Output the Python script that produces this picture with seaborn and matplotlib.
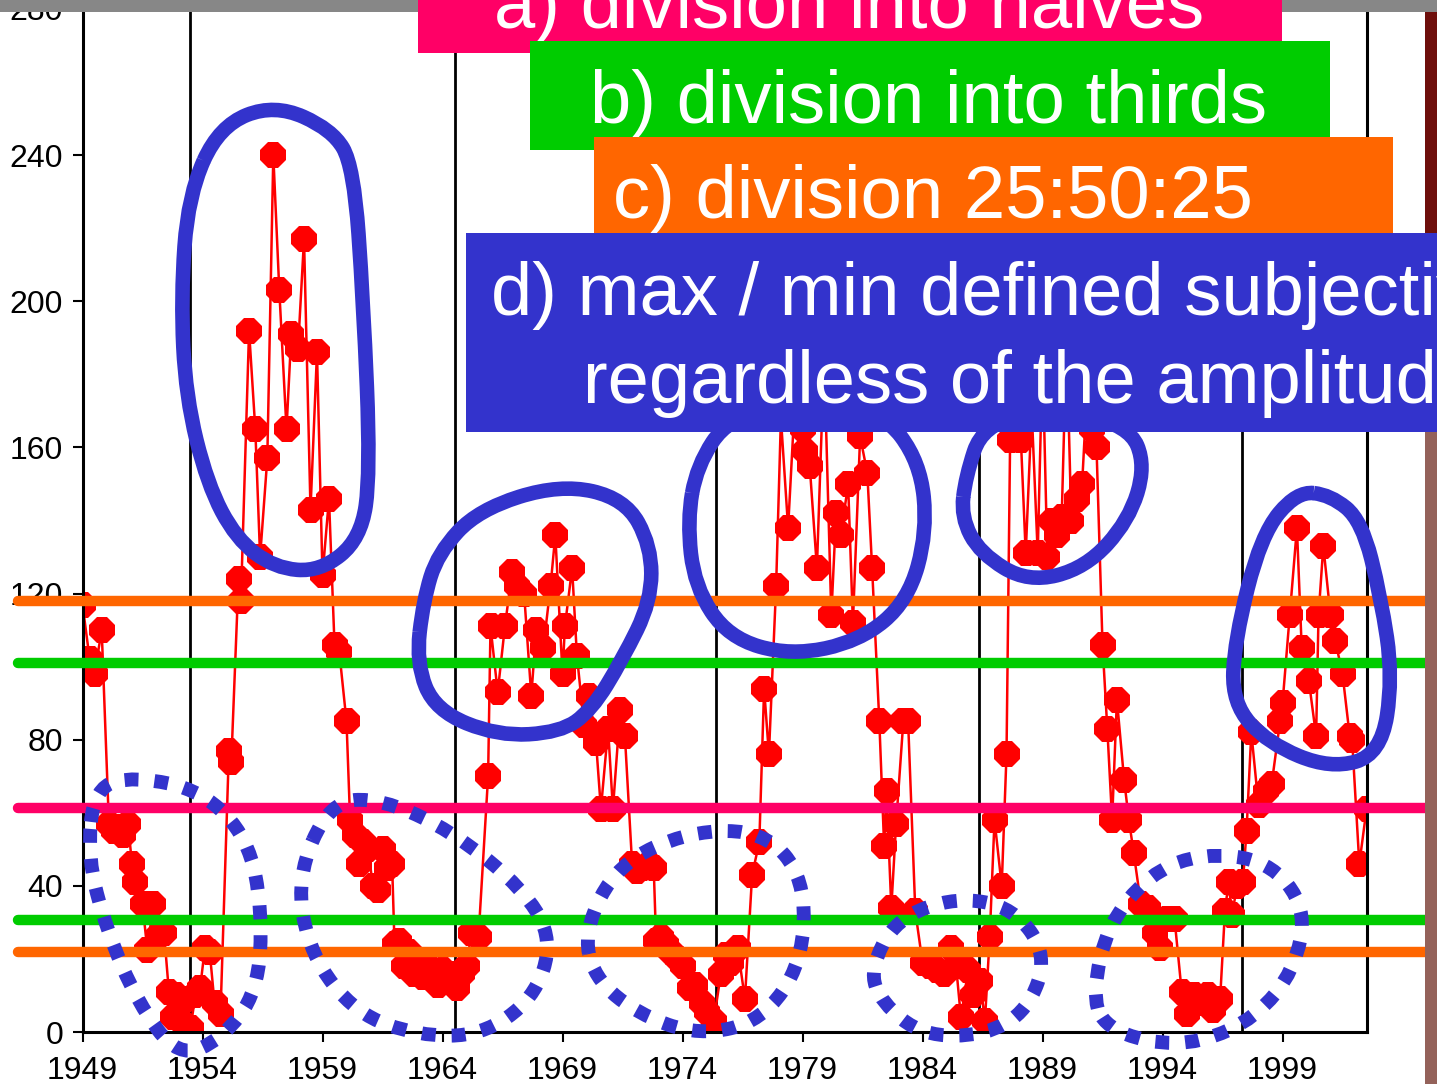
"""
Ciclos de manchas solares con umbrales de division (recreacion).
"""
import numpy as np
import pandas as pd
import matplotlib
matplotlib.use("Agg")
import matplotlib.pyplot as plt
import seaborn as sns
from matplotlib.patches import Rectangle, PathPatch
from matplotlib.path import Path

# --- datos ---
years = [
    1949.0, 1949.3, 1949.5, 1949.8, 1950.1, 1950.3, 1950.5, 1950.7, 1950.9, 1951.06,
    1951.2, 1951.5, 1951.7, 1951.95, 1952.2, 1952.4, 1952.6, 1952.75, 1952.9, 1953.1,
    1953.3, 1953.5, 1953.7, 1953.9, 1954.1, 1954.3, 1954.5, 1954.75, 1955.1, 1955.2,
    1955.5, 1955.6, 1955.94, 1956.2, 1956.4, 1956.7, 1956.95, 1957.2, 1957.5, 1957.7,
    1957.98, 1958.23, 1958.5, 1958.77, 1959.0, 1959.27, 1959.5, 1959.7, 1960.0, 1960.15,
    1960.35, 1960.5, 1960.7, 1960.9, 1961.1, 1961.3, 1961.5, 1961.7, 1961.9, 1962.0,
    1962.2, 1962.4, 1962.6, 1962.8, 1963.0, 1963.2, 1963.4, 1963.6, 1963.8, 1964.0,
    1964.2, 1964.4, 1964.6, 1964.8, 1965.0, 1965.2, 1965.5, 1965.9, 1966.0, 1966.3,
    1966.6, 1966.9, 1967.1, 1967.4, 1967.7, 1967.9, 1968.2, 1968.5, 1968.7, 1969.0,
    1969.1, 1969.4, 1969.6, 1969.9, 1970.1, 1970.4, 1970.6, 1970.9, 1971.1, 1971.4,
    1971.6, 1971.9, 1972.1, 1972.3, 1972.6, 1972.8, 1972.9, 1973.1, 1973.3, 1973.5,
    1973.8, 1974.0, 1974.3, 1974.5, 1974.8, 1975.0, 1975.3, 1975.6, 1975.8, 1976.0,
    1976.3, 1976.6, 1976.9, 1977.2, 1977.4, 1977.6, 1977.9, 1978.1, 1978.4, 1978.7,
    1979.0, 1979.1, 1979.3, 1979.6, 1979.9, 1980.2, 1980.4, 1980.6, 1980.9, 1981.1,
    1981.4, 1981.7, 1981.9, 1982.2, 1982.4, 1982.5, 1982.7, 1982.9, 1983.2, 1983.4,
    1983.7, 1984.0, 1984.3, 1984.6, 1984.9, 1985.2, 1985.4, 1985.6, 1985.9, 1986.1,
    1986.4, 1986.6, 1986.8, 1987.0, 1987.3, 1987.5, 1987.65, 1987.9, 1988.1, 1988.3,
    1988.55, 1988.8, 1989.0, 1989.2, 1989.4, 1989.6, 1989.8, 1990.0, 1990.2, 1990.45,
    1990.65, 1990.85, 1991.05, 1991.25, 1991.5, 1991.7, 1991.9, 1992.1, 1992.4, 1992.6,
    1992.8, 1993.1, 1993.4, 1993.7, 1993.9, 1994.2, 1994.5, 1994.8, 1995.0, 1995.3,
    1995.6, 1995.9, 1996.1, 1996.4, 1996.6, 1996.75, 1996.9, 1997.1, 1997.35, 1997.5,
    1997.7, 1998.0, 1998.3, 1998.55, 1998.9, 1999.0, 1999.3, 1999.6, 1999.8, 2000.1,
    2000.4, 2000.5, 2000.7, 2001.0, 2001.2, 2001.5, 2001.8, 2001.9, 2002.2, 2002.5,
]
sunspots = [
    117, 102, 98, 110, 57, 55, 56, 54, 57, 46,
    41, 35, 22.5, 35, 26.5, 27, 11, 4, 10, 3,
    9, 1, 10, 12, 23, 22, 8, 5, 77, 74,
    124, 118, 192, 165, 130, 157, 240, 203, 165, 191,
    187, 217, 143, 186, 125, 146, 106, 104, 85, 58,
    54, 46, 52, 50, 40, 39, 50, 45, 46, 24,
    25, 18, 22, 16, 17, 15, 18, 16, 13, 17,
    15, 16, 12, 16, 18, 27, 26, 70, 111, 93,
    111, 126, 122, 120, 92, 110, 105, 122, 136, 98,
    111, 127, 103, 84, 92, 79, 61, 83, 61, 88,
    81, 46, 44, 45, 46, 45, 25, 26, 24, 22,
    20, 18, 12, 13, 8, 5.5, 3, 16, 21, 19,
    23, 9, 43, 52, 94, 76, 122, 168, 138, 175,
    165, 159, 155, 127, 185, 114, 142, 136, 150, 112,
    163, 153, 127, 85, 51, 66, 34, 57, 85, 85,
    33, 19, 18, 17, 16, 23, 18, 4, 17, 10,
    14, 3, 26, 58, 40, 76, 162, 175, 162, 131,
    170, 131, 185, 130, 140, 136, 141, 190, 140, 146,
    150, 175, 165, 160, 106, 83, 58, 91, 69, 58,
    49, 35, 34, 27, 23, 31, 31, 11, 5, 10,
    8, 10, 6, 9, 33, 41, 32, 40, 41, 55,
    82, 62, 66, 68, 85, 90, 114, 138, 105, 96,
    81, 114, 133, 114, 107, 98, 81, 80, 46, 61,
]

# lineas verticales (minimos de ciclo)
cycle_edges = [1953.48, 1964.5, 1975.4, 1986.35, 1997.31]

# umbrales horizontales
levels = [118, 101, 61.3, 30.6, 21.9]
level_colors = ["#FF6600", "#00CC00", "#FF0066", "#00CC00", "#FF6600"]

# contornos dibujados a mano (anio, valor)
max_loops = [
    [(1954.7, 248), (1957.0, 254), (1959.4, 247), (1960.3, 237), (1960.7, 200),
     (1961.0, 153), (1960.6, 135), (1958.9, 126), (1957.0, 127), (1955.4, 135),
     (1954.2, 150), (1953.3, 174), (1953.1, 201), (1953.4, 229)],
    [(1963.2, 118), (1963.8, 131), (1965.5, 143), (1968.9, 150), (1971.6, 146),
     (1972.7, 133), (1972.7, 118), (1971.5, 102), (1970.2, 88), (1968.9, 82),
     (1966.3, 81), (1963.7, 88), (1962.9, 101)],
    [(1974.6, 155), (1975.9, 168), (1978.9, 173), (1982.3, 170), (1983.9, 156),
     (1984.2, 137), (1983.4, 118), (1981.4, 107), (1978.5, 103), (1975.9, 108),
     (1974.5, 122), (1974.2, 140)],
    [(1985.8, 152), (1986.5, 166), (1989.3, 171), (1992.6, 166), (1993.3, 155),
     (1992.6, 140), (1990.8, 127), (1988.4, 123), (1986.4, 131), (1985.6, 141)],
    [(1999.6, 148), (1998.1, 136), (1997.0, 107), (1996.9, 90), (1998.4, 79),
     (2001.0, 72), (2003.1, 76), (2003.6, 97), (2003.1, 119), (2002.3, 140),
     (2001.0, 147)],
]
min_loops = [
    [(1949.5, 67), (1951.2, 70), (1954.0, 66), (1955.9, 53), (1956.5, 33),
     (1956.3, 11), (1954.8, -2), (1953.0, -7), (1951.3, 8), (1950.0, 28),
     (1949.2, 48)],
    [(1959.3, 63), (1961.4, 64), (1964.4, 55), (1967.4, 39), (1968.6, 25),
     (1967.8, 9), (1965.6, -1), (1963.0, -1), (1960.4, 5), (1958.5, 21),
     (1957.9, 42)],
    [(1969.9, 28), (1971.3, 46), (1974.3, 55), (1977.4, 55), (1979.1, 42),
     (1979.0, 19), (1977.3, 3), (1974.7, -1), (1972.1, 5), (1970.3, 15)],
    [(1981.8, 17), (1982.9, 31), (1985.4, 37), (1987.8, 34), (1989.2, 21),
     (1988.4, 6), (1986.6, -1), (1984.0, -1), (1982.3, 8)],
    [(1991.1, 11), (1991.7, 29), (1993.4, 43), (1995.6, 49), (1998.4, 47),
     (2000.0, 34), (1999.5, 17), (1997.9, 4), (1995.6, -3), (1993.4, -3),
     (1991.5, 2)],
]

box_labels = [
    "a) division into halves",
    "b) division into thirds",
    "c) division 25:50:25",
    "d) max / min defined subjectively",
    "regardless of the amplitude",
]

W, H = 1437, 1084
BLUE = "#3333CC"


def smooth_loop(points):
    """Curva cerrada (B-spline cuadratica) por los puntos de control."""
    pts = np.asarray(points, dtype=float)
    mids = (pts + np.roll(pts, -1, axis=0)) / 2
    verts = [mids[-1]]
    codes = [Path.MOVETO]
    for p, m in zip(pts, mids):
        verts += [p, m]
        codes += [Path.CURVE3, Path.CURVE3]
    return Path(verts, codes)


def fig_rect(fig, x0, y0, x1, y1, color, z):
    """Rectangulo en pixeles (origen arriba a la izquierda)."""
    fig.add_artist(Rectangle((x0 / W, 1 - y1 / H), (x1 - x0) / W, (y1 - y0) / H,
                             transform=fig.transFigure, color=color, lw=0, zorder=z))


sns.set_theme(style="white")
plt.rcParams["font.family"] = ["Liberation Sans", "DejaVu Sans"]

fig = plt.figure(figsize=(W / 100, H / 100), dpi=100)
ax = fig.add_axes([82.5 / W, 52 / H, (1367 - 82.5) / W, (1032 - 9) / H])

df = pd.DataFrame({"year": years, "sunspots": sunspots})
sns.lineplot(data=df, x="year", y="sunspots", ax=ax, estimator=None,
             color="#FF0000", lw=1.8, marker="8", markersize=20,
             markeredgecolor="#FF0000", markeredgewidth=0, zorder=2)

for x in cycle_edges:
    ax.axvline(x, color="black", lw=2, zorder=1)

for val, col in zip(levels, level_colors):
    ax.axhline(val, xmin=-0.05, xmax=1.06, color=col, lw=7.5,
               clip_on=False, zorder=3)

for loop in max_loops:
    ax.add_patch(PathPatch(smooth_loop(loop), fill=False, edgecolor=BLUE,
                           lw=10.5, clip_on=False, zorder=4))
for loop in min_loops:
    ax.add_patch(PathPatch(smooth_loop(loop), fill=False, edgecolor=BLUE,
                           lw=10, linestyle=(0, (1, 1.15)), capstyle="butt",
                           clip_on=False, zorder=4))

ax.set_xlim(1949, 2002.52)
ax.set_ylim(0, 280)
ax.set_xticks(range(1949, 2000, 5))
ax.set_yticks(range(0, 281, 40))
ax.set_xlabel("")
ax.set_ylabel("")
ax.tick_params(bottom=True, left=True, direction="out", length=7, width=1.5,
               labelsize=23, colors="black")
ax.tick_params(axis="x", pad=10)
ax.tick_params(axis="y", pad=7)
for sp in ax.spines.values():
    sp.set_color("black")
    sp.set_linewidth(2.2)

# marco de la diapositiva
fig_rect(fig, 0, 0, W, 12, "#878787", 5)
fig_rect(fig, 1425, 12, W, 235, "#6e0f0c", 5)
fig_rect(fig, 1425, 235, W, H, "#94625a", 5)

# cajas de texto
boxes = [
    (418, 0, 1282, 53, "#FF0066"),
    (530, 41, 1330, 150, "#00CC00"),
    (594, 137, 1393, 233, "#FF6600"),
    (466, 233, W, 432, BLUE),
]
for i, (x0, y0, x1, y1, col) in enumerate(boxes):
    fig_rect(fig, x0, y0, x1, y1, col, 6 + i)

text_pos = [(494, 28, 6.5), (590, 123, 7.5), (613, 218, 8.5),
            (491, 315, 9.5), (583, 403, 9.5)]
for label, (x, y, z) in zip(box_labels, text_pos):
    fig.text(x / W, 1 - y / H, label, color="white", fontsize=53.5,
             ha="left", va="baseline", zorder=z)

fig.savefig("out.png", dpi=100)
plt.close(fig)
